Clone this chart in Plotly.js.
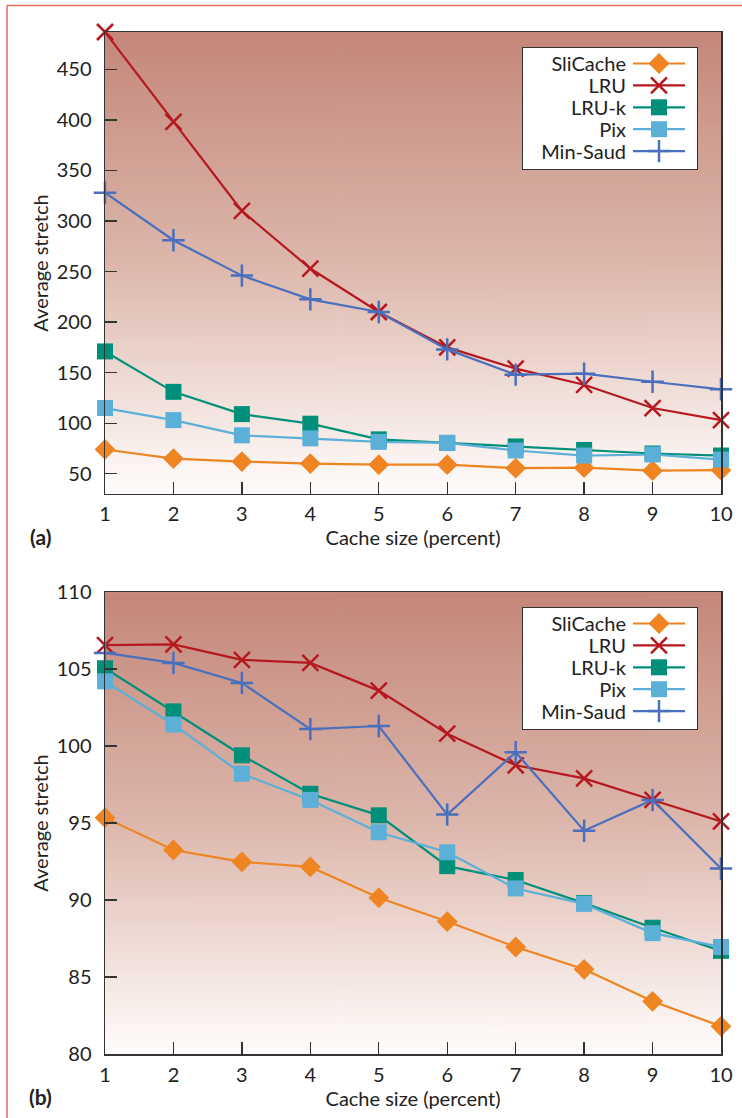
<!DOCTYPE html>
<html>
<head>
<meta charset="utf-8">
<script src="https://cdn.plot.ly/plotly-3.0.1.min.js"></script>
<style>html,body{margin:0;padding:0;background:#fff;}#chart{width:742px;height:1118px;}</style>
</head>
<body>
<div id="chart"></div>
<script>
// ---- data ----
const cacheSize = [1, 2, 3, 4, 5, 6, 7, 8, 9, 10];
const seriesNames = ["SliCache", "LRU", "LRU-k", "Pix", "Min-Saud"];

// panel (a)
const aSliCache = [74, 65, 62, 60, 59, 59, 55.5, 56, 53, 53.5];
const aLRU      = [487, 398, 310, 253, 210, 175, 154, 138, 115, 103];
const aLRUk     = [171, 131, 109, 99.5, 84, 80.5, 77, 73.5, 70, 68];
const aPix      = [115, 103, 88, 85, 81.5, 80.5, 73, 68, 69, 64];
const aMinSaud  = [328, 281, 246, 222.5, 210, 173, 148, 149, 141, 133.5];

// panel (b)
const bSliCache = [95.35, 93.25, 92.48, 92.15, 90.15, 88.6, 86.95, 85.5, 83.42, 81.8];
const bLRU      = [106.55, 106.6, 105.6, 105.4, 103.6, 100.8, 98.75, 97.9, 96.5, 95.1];
const bLRUk     = [105.05, 102.25, 99.4, 96.9, 95.5, 92.2, 91.3, 89.8, 88.2, 86.7];
const bPix      = [104.2, 101.4, 98.2, 96.5, 94.4, 93.1, 90.75, 89.75, 87.85, 86.95];
const bMinSaud  = [106.05, 105.4, 104.1, 101.1, 101.3, 95.55, 99.6, 94.5, 96.5, 92.05];

const xTicks = [1, 2, 3, 4, 5, 6, 7, 8, 9, 10];
const aYTicks = [50, 100, 150, 200, 250, 300, 350, 400, 450];
const bYTicks = [80, 85, 90, 95, 100, 105, 110];

// ---- styles ----
const FONT = "Lato, 'Open Sans', sans-serif";
const FS = 20;
const styles = [
  {color: "#ee8422", symbol: "diamond", size: 16, lw: 0},
  {color: "#b5191f", symbol: "x-thin-open", size: 16, lw: 2.5},
  {color: "#00907a", symbol: "square", size: 16, lw: 0},
  {color: "#5cb0d8", symbol: "square", size: 16, lw: 0},
  {color: "#4a6fbd", symbol: "cross-thin-open", size: 16, lw: 2.5}
];

function mk(name, y, st, xa, ya, lg) {
  return {
    type: "scatter", mode: "lines+markers", name: name,
    x: cacheSize, y: y, xaxis: xa, yaxis: ya, legend: lg,
    cliponaxis: false,
    line: {color: st.color, width: 2.2},
    marker: {symbol: st.symbol, size: st.size, color: st.color,
             line: {color: st.color, width: st.lw}}
  };
}

const aSeries = [aSliCache, aLRU, aLRUk, aPix, aMinSaud];
const bSeries = [bSliCache, bLRU, bLRUk, bPix, bMinSaud];
const traces = [];
aSeries.forEach((s, i) => traces.push(mk(seriesNames[i], s, styles[i], "x", "y", "legend")));
bSeries.forEach((s, i) => traces.push(mk(seriesNames[i], s, styles[i], "x2", "y2", "legend2")));

// gradient background image
function gradientURL() {
  const c = document.createElement("canvas");
  c.width = 4; c.height = 512;
  const ctx = c.getContext("2d");
  const g = ctx.createLinearGradient(0, 0, 0, 512);
  g.addColorStop(0, "#c4877a");
  g.addColorStop(0.5, "#ddb7ac");
  g.addColorStop(0.96, "#fdf8f6");
  g.addColorStop(1, "#fefbfa");
  ctx.fillStyle = g;
  ctx.fillRect(0, 0, 4, 512);
  return c.toDataURL("image/png");
}
const bgSrc = gradientURL();

const axisCommon = {
  showline: true, mirror: true, linecolor: "#333", linewidth: 1.5,
  ticks: "inside", ticklen: 12, tickwidth: 1.3, tickcolor: "#333",
  showgrid: false, zeroline: false,
  tickfont: {family: FONT, size: FS, color: "#222"}
};

const L = 105, T = 32, PW = 616, PH = 1022, B = 1054;
const px = v => (v - L) / PW;
const py = v => (B - v) / PH;

const legendCommon = {
  bgcolor: "#ffffff", bordercolor: "#333", borderwidth: 1,
  font: {family: FONT, size: FS, color: "#222"},
  xanchor: "left", yanchor: "top"
};
const titleFont = {family: FONT, size: FS, color: "#222"};

const layout = {
  width: 742, height: 1118,
  margin: {l: L, r: 21, t: T, b: 64},
  paper_bgcolor: "#ffffff",
  plot_bgcolor: "rgba(0,0,0,0)",
  font: {family: FONT, size: FS, color: "#222"},
  showlegend: true,
  xaxis: Object.assign({}, axisCommon, {
    domain: [0, 1], anchor: "y", range: [1, 10], tickvals: xTicks,
    ticklabelstandoff: 2,
    title: {text: "Cache size (percent)", font: titleFont, standoff: 2}
  }),
  yaxis: Object.assign({}, axisCommon, {
    domain: [0.548, 1], anchor: "x", range: [30, 487], tickvals: aYTicks,
    ticklabelstandoff: 8,
    title: {text: "Average stretch", font: titleFont, standoff: 2}
  }),
  xaxis2: Object.assign({}, axisCommon, {
    domain: [0, 1], anchor: "y2", range: [1, 10], tickvals: xTicks,
    ticklabelstandoff: 2,
    title: {text: "Cache size (percent)", font: titleFont, standoff: 2}
  }),
  yaxis2: Object.assign({}, axisCommon, {
    domain: [0, 0.452], anchor: "x2", range: [80, 110], tickvals: bYTicks,
    ticklabelstandoff: 8,
    title: {text: "Average stretch", font: titleFont, standoff: 2}
  }),
  legend: Object.assign({}, legendCommon, {x: px(522), y: py(47)}),
  legend2: Object.assign({}, legendCommon, {x: px(522), y: py(607)}),
  images: [
    {source: bgSrc, xref: "x domain", yref: "y domain", x: 0, y: 1, sizex: 1, sizey: 1,
     xanchor: "left", yanchor: "top", sizing: "stretch", layer: "below"},
    {source: bgSrc, xref: "x2 domain", yref: "y2 domain", x: 0, y: 1, sizex: 1, sizey: 1,
     xanchor: "left", yanchor: "top", sizing: "stretch", layer: "below"}
  ],
  shapes: [
    {type: "line", xref: "paper", yref: "paper", x0: px(7), x1: px(742), y0: py(5.5), y1: py(5.5),
     line: {color: "#e0705a", width: 1.5}},
    {type: "line", xref: "paper", yref: "paper", x0: px(7), x1: px(7), y0: py(5.5), y1: py(1118),
     line: {color: "#e0705a", width: 1.5}}
  ],
  annotations: [
    {text: "<b>(a)</b>", xref: "paper", yref: "paper", x: px(40), y: py(536),
     xanchor: "center", yanchor: "middle", showarrow: false,
     font: {family: FONT, size: 21, color: "#222"}},
    {text: "<b>(b)</b>", xref: "paper", yref: "paper", x: px(40), y: py(1096),
     xanchor: "center", yanchor: "middle", showarrow: false,
     font: {family: FONT, size: 21, color: "#222"}}
  ]
};

// Move legend text to the left of the symbols (text right-aligned, sample on the right)
function fixLegends(gd) {
  const W = 175, H = 122;
  const tops = {legend: 47, legend2: 607};
  const all = gd.querySelectorAll("g.legend, g.legend2");
  all.forEach(Lg => {
    const id = Lg.classList.contains("legend2") ? "legend2" : "legend";
    Lg.setAttribute("transform", "translate(522," + tops[id] + ")");
    const bg = Lg.querySelector("rect.bg");
    if (bg) {
      bg.setAttribute("x", 0); bg.setAttribute("y", 0);
      bg.setAttribute("width", W); bg.setAttribute("height", H);
    }
    const sb = Lg.querySelector("g.scrollbox");
    if (sb) { sb.removeAttribute("clip-path"); sb.setAttribute("transform", ""); }
    Lg.querySelectorAll("g.traces").forEach((t, i) => {
      t.setAttribute("transform", "translate(0," + (16.5 + i * 21.9) + ")");
      const tx = t.querySelector("text");
      if (tx) {
        tx.setAttribute("x", 104);
        tx.setAttribute("text-anchor", "end");
        tx.style.textAnchor = "end";
        tx.querySelectorAll("tspan").forEach(ts => { if (ts.hasAttribute("x")) ts.setAttribute("x", 104); });
      }
      let cx = 20;
      const pt = t.querySelector("path.scatterpts");
      if (pt) {
        const m = /translate\(([-\d.]+)/.exec(pt.getAttribute("transform") || "");
        if (m) cx = parseFloat(m[1]);
      }
      const layers = t.querySelector("g.layers");
      if (layers) layers.setAttribute("transform", "translate(" + (137 - cx) + ",0)");
      const ln = t.querySelector("g.legendlines path");
      if (ln) ln.setAttribute("d", "M" + (cx - 26) + ",0h52");
      t.querySelectorAll("rect").forEach(r => {
        if ((r.getAttribute("class") || "").indexOf("toggle") >= 0) r.setAttribute("width", 0);
      });
    });
  });
}

Plotly.newPlot("chart", traces, layout, {staticPlot: true, displayModeBar: false, responsive: false})
  .then(gd => {
    fixLegends(gd);
    gd.on("plotly_afterplot", () => fixLegends(gd));
    setTimeout(() => fixLegends(gd), 30);
    setTimeout(() => fixLegends(gd), 200);
  });
</script>
</body>
</html>
